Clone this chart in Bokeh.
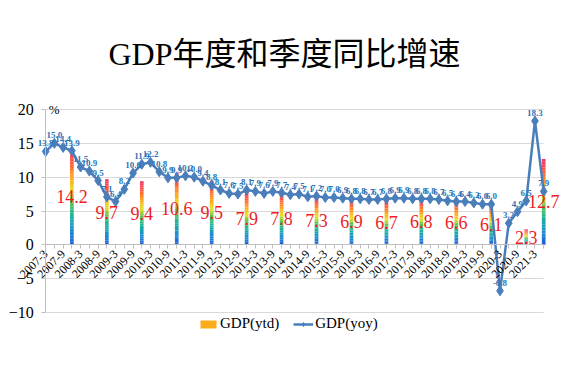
from bokeh.plotting import figure
from bokeh.models import (ColumnDataSource, FixedTicker, LabelSet, Label, Legend,
                          LegendItem, Title, BoxAnnotation)
from bokeh.core.properties import value
from bokeh.embed import file_html
from bokeh.resources import INLINE
import math

# ---------------- data ----------------
quarters = [
    "2007-3", "2007-6", "2007-9", "2007-12", "2008-3", "2008-6", "2008-9", "2008-12",
    "2009-3", "2009-6", "2009-9", "2009-12", "2010-3", "2010-6", "2010-9", "2010-12",
    "2011-3", "2011-6", "2011-9", "2011-12", "2012-3", "2012-6", "2012-9", "2012-12",
    "2013-3", "2013-6", "2013-9", "2013-12", "2014-3", "2014-6", "2014-9", "2014-12",
    "2015-3", "2015-6", "2015-9", "2015-12", "2016-3", "2016-6", "2016-9", "2016-12",
    "2017-3", "2017-6", "2017-9", "2017-12", "2018-3", "2018-6", "2018-9", "2018-12",
    "2019-3", "2019-6", "2019-9", "2019-12", "2020-3", "2020-6", "2020-9", "2020-12",
    "2021-3", "2021-6",
]
gdp_yoy = [
    13.8, 15.0, 14.4, 13.9, 11.5, 10.9, 9.5, 7.1,
    6.4, 8.2, 10.6, 11.9, 12.2, 10.8, 9.9, 9.9,
    10.2, 10.0, 9.4, 8.8, 8.1, 7.6, 7.5, 8.1,
    7.9, 7.6, 7.9, 7.7, 7.4, 7.5, 7.1, 7.2,
    7.0, 7.0, 6.9, 6.8, 6.8, 6.7, 6.7, 6.8,
    6.9, 6.9, 6.8, 6.8, 6.8, 6.7, 6.5, 6.4,
    6.4, 6.2, 6.0, 6.0, -6.8, 3.2, 4.9, 6.5,
    18.3, 7.9,
]
ytd_periods = ["2007-12", "2008-12", "2009-12", "2010-12", "2011-12", "2012-12",
               "2013-12", "2014-12", "2015-12", "2016-12", "2017-12", "2018-12",
               "2019-12", "2020-12", "2021-6"]
gdp_ytd = [14.2, 9.7, 9.4, 10.6, 9.5, 7.9, 7.8, 7.3, 6.9, 6.7, 6.8, 6.6, 6.1, 2.3, 12.7]

tick_labels = quarters[::2]
y_ticks = [-10, -5, 0, 5, 10, 15, 20]

# ---------------- styles ----------------
SERIF = "Liberation Serif"
LINE_COLOR = "#4a7ebb"
LABEL_BLUE = "#2e75b6"
BAR_LABEL_RED = "#ee1c25"
GRID_COLOR = "#d9d9d9"
AXIS_COLOR = "#bfbfbf"
GRAD_STOPS = [(0.0, (31, 90, 214)), (0.15, (26, 140, 208)), (0.3, (25, 178, 160)),
              (0.45, (92, 194, 74)), (0.56, (232, 224, 32)), (0.7, (255, 165, 26)),
              (0.85, (255, 90, 60)), (1.0, (240, 48, 106))]
N_SEG = 30


def grad(t):
    for (t0, c0), (t1, c1) in zip(GRAD_STOPS[:-1], GRAD_STOPS[1:]):
        if t <= t1:
            f = (t - t0) / (t1 - t0)
            c = [round(a + (b - a) * f) for a, b in zip(c0, c1)]
            return "#%02x%02x%02x" % tuple(c)
    return "#%02x%02x%02x" % GRAD_STOPS[-1][1]


x_idx = list(range(len(quarters)))
bar_x = [quarters.index(q) for q in ytd_periods]
x_first, x_last = x_idx[0], x_idx[-1]

# ---------------- figure ----------------
# frame covers the whole canvas below the title so that labels are not clipped
p = figure(frame_width=575, frame_height=261, x_range=(-5.17, 60.64), y_range=(-17.24, 21.33),
           min_border_left=0, min_border_right=0, min_border_top=100, min_border_bottom=0,
           output_backend="svg", toolbar_location=None, background_fill_color="white",
           border_fill_color="white")
p.outline_line_color = None

# title
title = Title(text="GDP年度和季度同比增速", align="left", offset=108,
              text_font="Liberation Serif, Noto Sans CJK SC", text_font_size="32px",
              text_font_style="normal", text_color="#000000", standoff=57)
p.add_layout(title, "above")

# grid
p.xgrid.visible = False
p.ygrid.grid_line_color = GRID_COLOR
p.ygrid.grid_line_width = 1

# mask the grid outside the plotting area
for kw in (dict(right=x_first), dict(left=x_last)):
    p.add_layout(BoxAnnotation(fill_color="white", fill_alpha=1.0, line_alpha=0,
                               level="underlay", **kw))

# axes
p.yaxis.ticker = FixedTicker(ticks=y_ticks)
p.yaxis.fixed_location = x_first
p.yaxis.bounds = (min(y_ticks), max(y_ticks))
p.yaxis.axis_line_color = AXIS_COLOR
p.yaxis.major_tick_line_color = AXIS_COLOR
p.yaxis.major_tick_out = 4
p.yaxis.major_tick_in = 0
p.yaxis.minor_tick_line_color = None
p.yaxis.major_label_standoff = 8
p.yaxis.major_label_text_font = SERIF
p.yaxis.major_label_text_font_size = "16px"
p.yaxis.major_label_text_color = "#000000"

p.xaxis.fixed_location = 0
p.xaxis.bounds = (x_first, x_last)
p.xaxis.ticker = FixedTicker(ticks=x_idx[::2], minor_ticks=x_idx[1::2])
p.xaxis.major_label_overrides = {i: quarters[i] for i in x_idx[::2]}
p.xaxis.major_label_orientation = math.pi / 4
p.xaxis.axis_line_color = AXIS_COLOR
p.xaxis.major_tick_line_color = AXIS_COLOR
p.xaxis.minor_tick_line_color = AXIS_COLOR
p.xaxis.major_tick_out = 4
p.xaxis.major_tick_in = 0
p.xaxis.minor_tick_out = 4
p.xaxis.minor_tick_in = 0
p.xaxis.major_label_standoff = 3
p.xaxis.major_label_text_font = SERIF
p.xaxis.major_label_text_font_size = "12px"
p.xaxis.major_label_text_color = "#000000"

# gradient bars (ytd)
seg = dict(x=[], bottom=[], top=[], color=[])
for xb, v in zip(bar_x, gdp_ytd):
    for k in range(N_SEG):
        seg["x"].append(xb)
        seg["bottom"].append(v * k / N_SEG)
        seg["top"].append(v * (k + 1) / N_SEG)
        seg["color"].append(grad((k + 0.5) / N_SEG))
r_bar = p.vbar(x="x", bottom="bottom", top="top", width=0.42, fill_color="color",
               line_color=None, source=ColumnDataSource(seg))

# yoy line
src_line = ColumnDataSource(dict(x=x_idx, y=gdp_yoy, lab=[f"{v:.1f}" for v in gdp_yoy]))
r_line = p.line("x", "y", source=src_line, line_color=LINE_COLOR, line_width=2.5)
r_mark = p.scatter("x", "y", source=src_line, marker="diamond", size=10,
                   fill_color=LINE_COLOR, line_color=LINE_COLOR)

# labels
p.add_layout(LabelSet(x="x", y="y", text="lab", source=src_line, y_offset=5,
                      text_align="center", text_baseline="bottom",
                      text_font=value(SERIF), text_font_size="9px",
                      text_font_style="bold", text_color=LABEL_BLUE))

src_bar = ColumnDataSource(dict(x=bar_x, y=[v / 2 for v in gdp_ytd],
                                lab=[f"{v:.1f}" for v in gdp_ytd]))
p.add_layout(LabelSet(x="x", y="y", text="lab", source=src_bar,
                      text_align="center", text_baseline="middle",
                      text_font=value(SERIF), text_font_size="18px",
                      text_color=BAR_LABEL_RED))

p.add_layout(Label(x=x_first, y=max(y_ticks), text="%", x_offset=3, text_baseline="middle",
                   text_font=SERIF, text_font_size="13px", text_color="#000000"))

# legend
legend = Legend(items=[LegendItem(label="GDP(ytd)", renderers=[r_bar], index=20),
                       LegendItem(label="GDP(yoy)", renderers=[r_line, r_mark])],
                orientation="horizontal", location=(198, 29),
                glyph_width=20, glyph_height=10, spacing=14, label_standoff=2,
                padding=0, margin=0, background_fill_alpha=0, border_line_alpha=0,
                label_text_font=SERIF, label_text_font_size="15px",
                label_text_color="#000000")
p.add_layout(legend, "center")

open("out.html", "w").write(file_html(p, INLINE))
